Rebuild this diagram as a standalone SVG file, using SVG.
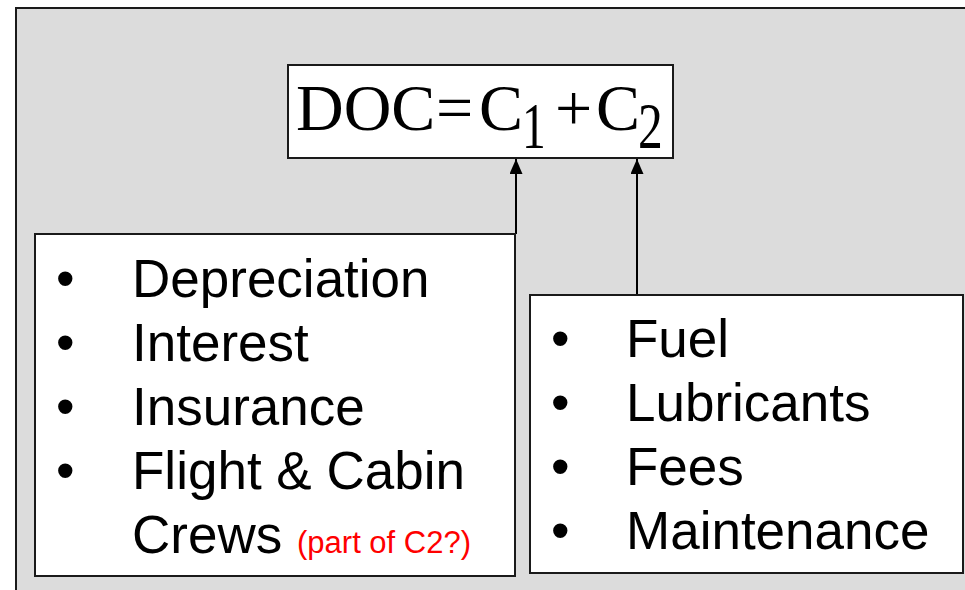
<svg xmlns="http://www.w3.org/2000/svg" width="965" height="590" viewBox="0 0 965 590">
<style>
.box{fill:#fff;stroke:#1a1a1a;stroke-width:2}
.conn{stroke:#000;stroke-width:2;fill:none}
.item{font-family:"Liberation Sans",Arial,sans-serif;font-size:53px;fill:#000}
.math{font-family:"Liberation Serif","Times New Roman",serif;font-size:66px;fill:#000}
.note{font-family:"Liberation Sans",Arial,sans-serif;font-size:31px;fill:#ff0000}
</style>
<defs>
<marker id="arr" viewBox="0 0 15 13" refX="15" refY="6.5" markerWidth="15" markerHeight="13" markerUnits="userSpaceOnUse" orient="auto">
<path d="M0,0 L15,6.5 L0,13 z" fill="#000"/>
</marker>
</defs>
<rect x="0" y="0" width="965" height="590" fill="#fff"/>
<rect x="16" y="8" width="1000" height="1000" fill="#dcdcdc" stroke="#1a1a1a" stroke-width="2"/>
<g id="connectors">
<line class="conn" x1="516" y1="234" x2="516" y2="159" marker-end="url(#arr)"/>
<line class="conn" x1="637" y1="295" x2="637" y2="159" marker-end="url(#arr)"/>
</g>
<g id="doc">
<rect class="box" x="288" y="65" width="385" height="93"/>
<text class="math" x="296" y="130">DOC</text>
<text class="math" x="436" y="130">=</text>
<text class="math" x="479" y="130">C</text>
<text class="math" transform="translate(522,148) scale(0.72,1)" font-size="60">1</text>
<text class="math" x="555" y="130">+</text>
<text class="math" x="596" y="130">C</text>
<text class="math" transform="translate(638,148) scale(0.75,1)" font-size="60">2</text>
</g>
<g id="c1-items">
<rect class="box" x="35" y="234" width="480" height="342"/>
<text class="item" x="56" y="297">•</text>
<text class="item" x="132" y="297">Depreciation</text>
<text class="item" x="56" y="361">•</text>
<text class="item" x="132" y="361">Interest</text>
<text class="item" x="56" y="425">•</text>
<text class="item" x="132" y="425">Insurance</text>
<text class="item" x="56" y="489">•</text>
<text class="item" x="132" y="489">Flight &amp; Cabin</text>
<text class="item" x="132" y="553">Crews</text>
<text class="note" x="297" y="553">(part of C2?)</text>
</g>
<g id="c2-items">
<rect class="box" x="530" y="295" width="433" height="278"/>
<text class="item" x="551" y="357">•</text>
<text class="item" x="626" y="357">Fuel</text>
<text class="item" x="551" y="421">•</text>
<text class="item" x="626" y="421">Lubricants</text>
<text class="item" x="551" y="485">•</text>
<text class="item" x="626" y="485">Fees</text>
<text class="item" x="551" y="549">•</text>
<text class="item" x="626" y="549">Maintenance</text>
</g>
</svg>
